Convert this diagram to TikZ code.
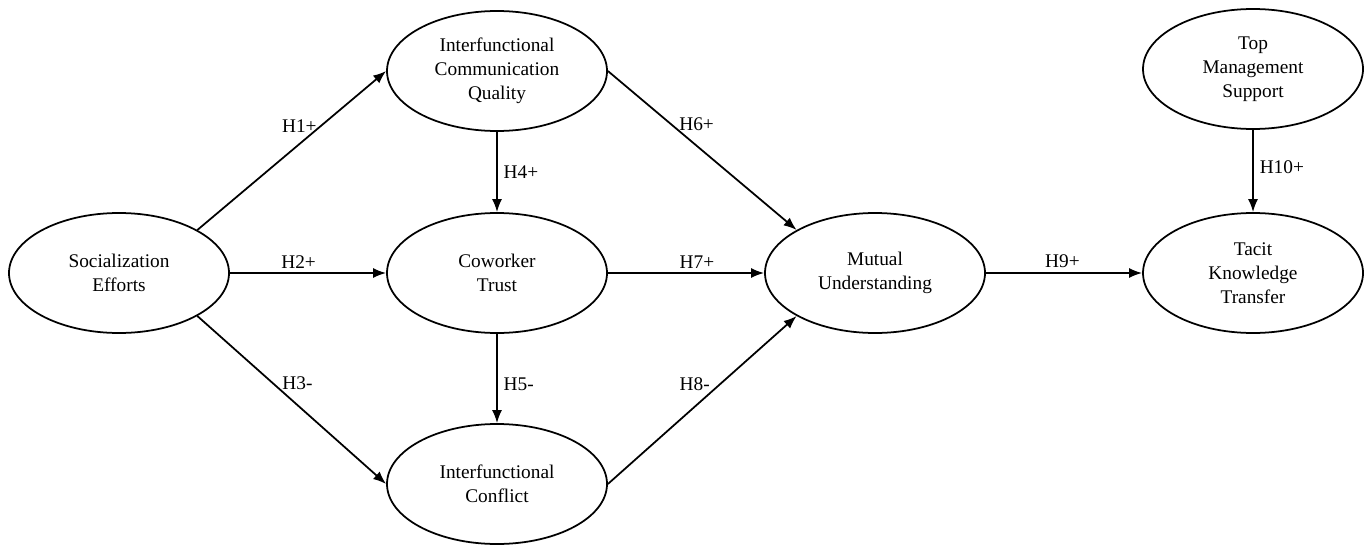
\documentclass[tikz,border=0pt]{standalone}
\usepackage{fontspec}
\setmainfont{Liberation Serif}
\usetikzlibrary{shapes.geometric,arrows.meta}
\begin{document}
\begin{tikzpicture}[
  construct/.style={ellipse, draw, line width=1pt, minimum width=4.4cm, minimum height=2.4cm, inner sep=0pt, align=center, font=\fontsize{11}{13.7}\selectfont},
  hyp/.style={line width=1pt, -{Latex[length=2.6mm, width=2mm]}},
  lbl/.style={font=\fontsize{11}{13.7}\selectfont}]
\useasboundingbox (0,0) rectangle (27.28,10.9);
\node[construct] (se) at (2.38,5.44) {Socialization\\Efforts};
\node[construct] (icq) at (9.94,9.48) {Interfunctional\\Communication\\Quality};
\node[construct] (ct) at (9.94,5.44) {Coworker\\Trust};
\node[construct] (ic) at (9.94,1.22) {Interfunctional\\Conflict};
\node[construct] (mu) at (17.5,5.44) {Mutual\\Understanding};
\node[construct] (tms) at (25.06,9.52) {Top\\Management\\Support};
\node[construct] (tkt) at (25.06,5.44) {Tacit\\Knowledge\\Transfer};
% hypotheses
\draw[hyp] (se.north east) -- node[lbl, pos=0.54, above=2.7pt] (h1) {H1+} (icq.west);
\draw[hyp] (se) -- node[lbl, pos=0.44, above=-1pt] (h2) {H2+} (ct);
\draw[hyp] (se.south east) -- node[lbl, pos=0.53, above=4.7pt] (h3) {H3-} (ic.west);
\draw[hyp] (icq) -- node[lbl, pos=0.5, right] (h4) {H4+} (ct);
\draw[hyp] (ct) -- node[lbl, pos=0.57, right] (h5) {H5-} (ic);
\draw[hyp] (icq.east) -- node[lbl, pos=0.47, above=4.5pt] (h6) {H6+} (mu.north west);
\draw[hyp] (ct) -- node[lbl, pos=0.57, above=-1pt] (h7) {H7+} (mu);
\draw[hyp] (ic.east) -- node[lbl, pos=0.46, above=5.5pt] (h8) {H8-} (mu.south west);
\draw[hyp] (mu) -- node[lbl, pos=0.49, above=-1pt] (h9) {H9+} (tkt);
\draw[hyp] (tms) -- node[lbl, pos=0.45, right] (h10) {H10+} (tkt);
\end{tikzpicture}
\end{document}
